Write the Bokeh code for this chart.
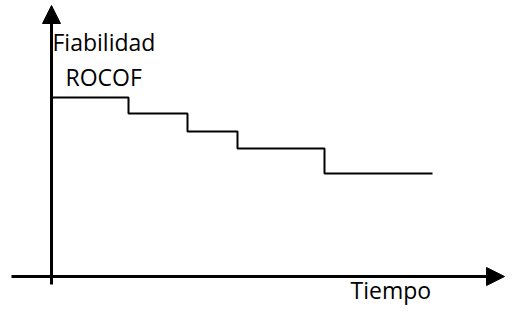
from bokeh.plotting import figure
from bokeh.models import Range1d, Arrow, NormalHead, Label
from bokeh.embed import file_html
from bokeh.resources import INLINE

# Step data: ROCOF / reliability level over time (arbitrary units)
times = [0, 7.7, 13.6, 18.6, 27.3, 38.1]
levels = [17.9, 16.3, 14.5, 12.8, 10.3, 10.3]

y_label_1 = "Fiabilidad"
y_label_2 = "ROCOF"
x_label = "Tiempo"

X_MIN, X_MAX = -5.1, 45.4
Y_MIN, Y_MAX = -3.0, 27.6

p = figure(width=505, height=306, output_backend="svg", toolbar_location=None,
           x_range=Range1d(X_MIN, X_MAX), y_range=Range1d(Y_MIN, Y_MAX),
           min_border=0, min_border_left=0, min_border_right=0,
           min_border_top=0, min_border_bottom=0)
p.axis.visible = False
p.grid.visible = False
p.outline_line_color = None
p.background_fill_color = "white"
p.border_fill_color = "white"

# axes drawn as arrows
p.add_layout(Arrow(end=NormalHead(size=18, fill_color="black", line_color="black"),
                   x_start=0, y_start=-0.8, x_end=0, y_end=27.1,
                   line_width=3, line_color="black"))
p.add_layout(Arrow(end=NormalHead(size=18, fill_color="black", line_color="black"),
                   x_start=-4.0, y_start=0, x_end=X_MAX - 0.1, y_end=0,
                   line_width=3, line_color="black"))

p.step(times, levels, mode="after", line_color="black", line_width=2)

font = "Open Sans"
fs = "23px"
p.add_layout(Label(x=0.1, y=23.5, text=y_label_1, text_font=font,
                   text_font_size=fs, text_color="black", text_baseline="alphabetic"))
p.add_layout(Label(x=1.4, y=19.95, text=y_label_2, text_font=font,
                   text_font_size=fs, text_color="black", text_baseline="alphabetic"))
p.add_layout(Label(x=29.9, y=Y_MIN + 0.1, text=x_label, text_font=font,
                   text_font_size=fs, text_color="black", text_baseline="bottom"))

open("out.html", "w").write(file_html(p, INLINE))
